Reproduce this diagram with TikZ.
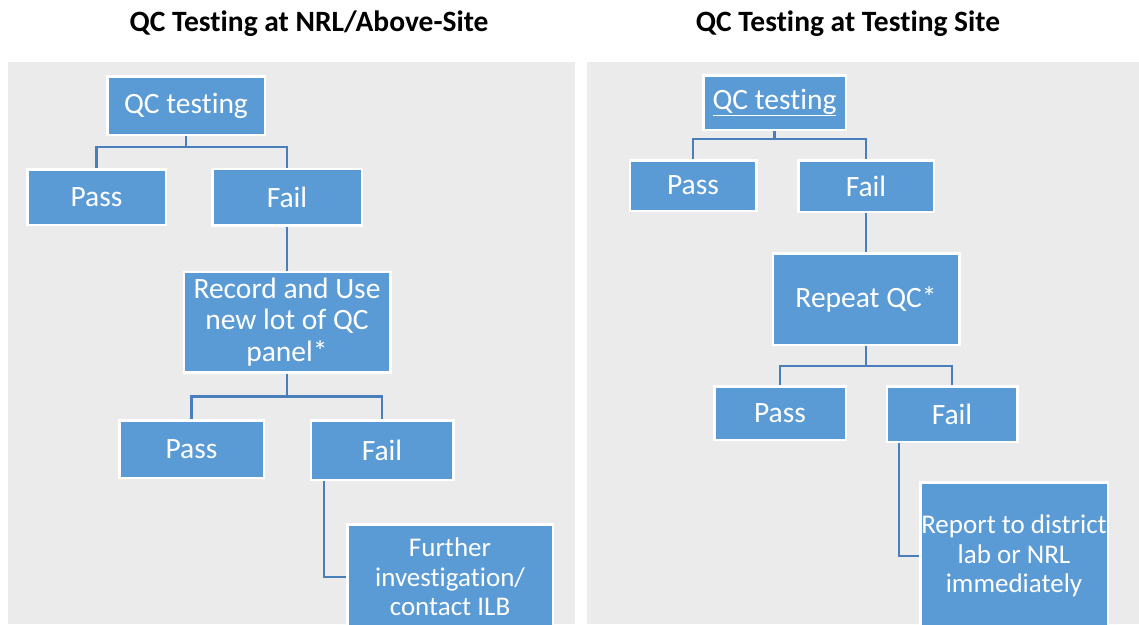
\documentclass[tikz,border=0pt]{standalone}
\usepackage{fontspec}
\setmainfont{Carlito}[Ligatures=NoCommon]
\definecolor{boxblue}{HTML}{5B9BD5}
\definecolor{linkblue}{HTML}{4A7EBB}
\definecolor{panelgray}{HTML}{EBEBEB}
\tikzset{
  box/.style={draw=white, line width=2.5pt, fill=boxblue, text=white,
    font=\fontsize{29.5}{31.5}\selectfont, inner sep=0pt, align=center},
  smallbox/.style={box, font=\fontsize{27}{29.5}\selectfont},
  conn/.style={draw=linkblue, line width=2.4pt},
  ttl/.style={font=\fontsize{29.5}{32}\selectfont\bfseries, text=black, inner sep=0pt}
}
\begin{document}
\begin{tikzpicture}[x=1pt,y=-1pt]
\useasboundingbox (0,0) rectangle (1139,624);
\clip (0,0) rectangle (1139,624);
\fill[white] (0,0) rectangle (1139,624);
\fill[panelgray] (8,62) rectangle (575,624);
\fill[panelgray] (587,62) rectangle (1139,624);
\node[ttl] (t1) at (309,24) {QC Testing at NRL/Above-Site};
\node[ttl] (t2) at (848,24) {QC Testing at Testing Site};
% left
\node[box, minimum width=157.5pt, minimum height=58.5pt] (qc1) at (186,105.5) {QC testing};
\node[box, minimum width=138.5pt, minimum height=55.5pt] (pass1) at (96.5,197) {Pass};
\node[box, minimum width=149.5pt, minimum height=56.5pt] (fail1) at (287,197) {Fail};
\node[box, minimum width=206.5pt, minimum height=100.5pt] (rec) at (287,322) {Record and Use\\new lot of QC\\panel*};
\node[box, minimum width=144.5pt, minimum height=57.5pt] (pass2) at (191.5,449) {Pass};
\node[box, minimum width=142.5pt, minimum height=59.5pt] (fail2) at (382,450) {Fail};
\node[smallbox, minimum width=205.5pt, minimum height=105.5pt] (further) at (450,577) {Further\\investigation/\\contact ILB};
% right
\node[box, minimum width=142.5pt, minimum height=54.5pt] (qc2) at (774.5,102.5) {\underline{QC testing}};
\node[box, minimum width=126.5pt, minimum height=50.5pt] (pass3) at (693,185.5) {Pass};
\node[box, minimum width=135.5pt, minimum height=51.5pt] (fail3) at (866,186) {Fail};
\node[box, minimum width=186.5pt, minimum height=91.5pt] (rep) at (866,299) {Repeat QC*};
\node[box, minimum width=131.5pt, minimum height=53.5pt] (pass4) at (780,413) {Pass};
\node[box, minimum width=130.5pt, minimum height=55.5pt] (fail4) at (952,414) {Fail};
\node[smallbox, minimum width=187.5pt, minimum height=147.5pt] (report) at (1014,556) {Report to district\\lab or NRL\\immediately};
% connectors left
\draw[conn] (qc1.south) -- ++(0,11) -| (pass1.north);
\draw[conn] (qc1.south) -- ++(0,11) -| (fail1.north);
\draw[conn] (fail1.south) -- (rec.north);
\draw[conn] (rec.south) -- ++(0,23) -| (pass2.north);
\draw[conn] (rec.south) -- ++(0,23) -| (fail2.north);
\draw[conn] ([xshift=-58pt]fail2.south) |- (further.west);
% connectors right
\draw[conn] (qc2.south) -- ++(0,8) -| (pass3.north);
\draw[conn] (qc2.south) -- ++(0,8) -| (fail3.north);
\draw[conn] (fail3.south) -- (rep.north);
\draw[conn] (rep.south) -- ++(0,20) -| (pass4.north);
\draw[conn] (rep.south) -- ++(0,20) -| (fail4.north);
\draw[conn] ([xshift=-53pt]fail4.south) |- (report.west);
\end{tikzpicture}
\end{document}
